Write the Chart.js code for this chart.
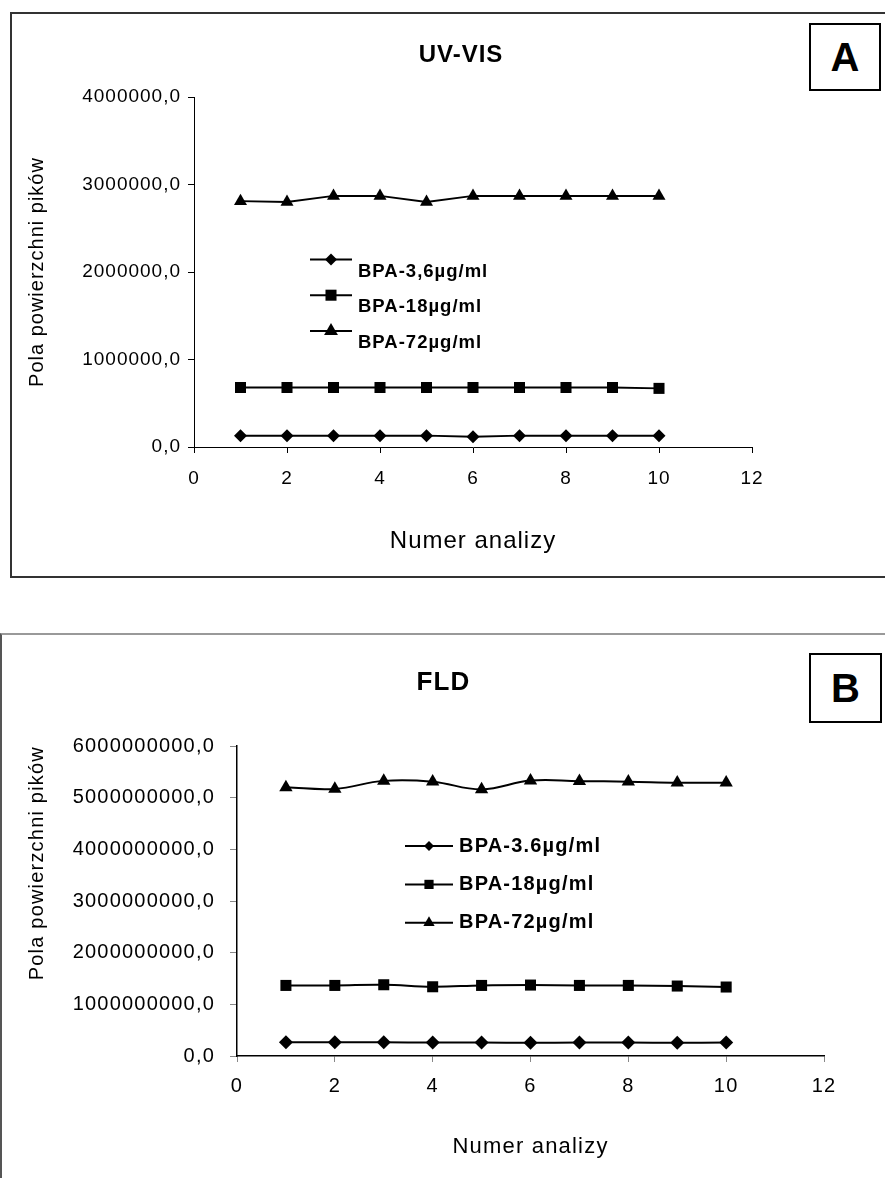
<!DOCTYPE html>
<html>
<head>
<meta charset="utf-8">
<script src="https://cdn.jsdelivr.net/npm/chart.js@4.4.0/dist/chart.umd.min.js"></script>
<style>
  html, body { margin: 0; padding: 0; background: #fff; overflow: hidden; width: 885px; height: 1178px; }
  .frame { position: absolute; box-sizing: border-box; }
  #frameA { left: 10px; top: 12px; width: 920px; height: 566px; border: 2px solid #333; }
  #frameB { left: 0; top: 633px; width: 920px; height: 600px; border-top: 2px solid #999; border-left: 2px solid #555; }
  .wrap { position: absolute; }
  #wrapA { left: 12px; top: 14px; width: 898px; height: 560px; }
  #wrapB { left: 2px; top: 635px; width: 883px; height: 543px; }
  .tag { position: absolute; box-sizing: border-box; border: 2px solid #000; background: #fff;
         font: bold 40px "Liberation Sans", Arial, sans-serif; display: flex; align-items: center; justify-content: center; }
  #tagA { left: 809px; top: 23px; width: 72px; height: 68px; }
  #tagB { left: 809px; top: 653px; width: 73px; height: 70px; }
</style>
</head>
<body>
<div class="frame" id="frameA"></div>
<div class="frame" id="frameB"></div>
<div class="wrap" id="wrapA"><canvas id="chartA"></canvas></div>
<div class="wrap" id="wrapB"><canvas id="chartB"></canvas></div>
<div class="tag" id="tagA">A</div>
<div class="tag" id="tagB">B</div>

<script>
// numer analizy
const analysisNo = [1, 2, 3, 4, 5, 6, 7, 8, 9, 10];

// UV-VIS
const uvNames = ['BPA-3,6µg/ml', 'BPA-18µg/ml', 'BPA-72µg/ml'];
const uvLow  = [130000, 130000, 130000, 130000, 130000, 117000, 130000, 130000, 130000, 130000];
const uvMid  = [680000, 680000, 680000, 680000, 680000, 680000, 680000, 680000, 680000, 670000];
const uvHigh = [2810000, 2800000, 2870000, 2870000, 2800000, 2870000, 2870000, 2870000, 2870000, 2870000];

// FLD
const fldNames = ['BPA-3.6µg/ml', 'BPA-18µg/ml', 'BPA-72µg/ml'];
const fldLow  = [265000000, 265000000, 265000000, 260000000, 260000000, 255000000, 260000000, 260000000, 255000000, 260000000];
const fldMid  = [1366000000, 1366000000, 1379000000, 1340000000, 1366000000, 1373000000, 1366000000, 1366000000, 1354000000, 1335000000];
const fldHigh = [5200000000, 5170000000, 5325000000, 5310000000, 5160000000, 5330000000, 5320000000, 5310000000, 5290000000, 5290000000];

const xTicksMax = 12;
const pointStyles = ['rectRot', 'rect', 'triangle'];

Chart.defaults.font.family = '"Liberation Sans", Arial, sans-serif';
Chart.defaults.color = '#000';

const commaTick = v => v.toFixed(1).replace('.', ',');

// wider text like in the original figure
const spacingPlugin = {
    id: 'spacing',
    beforeLayout(chart, args, opts) { chart.ctx.letterSpacing = opts.value; },
    beforeDraw(chart, args, opts) { chart.ctx.letterSpacing = opts.value; }
};

function drawMarker(ctx, style, x, y, r) {
    ctx.beginPath();
    if (style === 'rectRot') {
        ctx.moveTo(x - r, y); ctx.lineTo(x, y - r); ctx.lineTo(x + r, y); ctx.lineTo(x, y + r);
    } else if (style === 'rect') {
        const s = r * Math.SQRT1_2;
        ctx.rect(x - s, y - s, 2 * s, 2 * s);
    } else {
        const w = r * Math.sqrt(3) / 2;
        ctx.moveTo(x, y - r); ctx.lineTo(x + w, y + r / 2); ctx.lineTo(x - w, y + r / 2);
    }
    ctx.closePath();
    ctx.fill();
}

// legend placed inside the plot area
const insideLegend = {
    id: 'insideLegend',
    afterDatasetsDraw(chart, args, opts) {
        const { ctx, chartArea } = chart;
        ctx.save();
        ctx.fillStyle = '#000';
        ctx.strokeStyle = '#000';
        ctx.font = opts.font;
        ctx.textAlign = 'left';
        ctx.textBaseline = 'middle';
        chart.data.datasets.forEach((ds, i) => {
            const x = chartArea.left + opts.x;
            const y = chartArea.top + opts.y + i * opts.rowGap;
            ctx.lineWidth = 2;
            ctx.beginPath();
            ctx.moveTo(x, y);
            ctx.lineTo(x + opts.lineLength, y);
            ctx.stroke();
            drawMarker(ctx, ds.pointStyle, x + opts.lineLength / 2, y, opts.radii[i]);
            ctx.fillText(ds.label, x + opts.lineLength + opts.textGap, y + opts.textDy);
        });
        ctx.restore();
    }
};

function buildDatasets(names, series, radii, tension) {
    return series.map((vals, i) => ({
        label: names[i],
        data: analysisNo.map((x, j) => ({ x: x, y: vals[j] })),
        borderColor: '#000',
        backgroundColor: '#000',
        borderWidth: 2,
        tension: tension,
        pointStyle: pointStyles[i],
        pointRadius: radii[i],
        pointBorderWidth: 0,
        pointBackgroundColor: '#000'
    }));
}

// empty right-hand scale, only keeps space free so the title stays centred on the whole panel
function spacerScale(width) {
    return {
        type: 'linear', position: 'right', display: true,
        grid: { display: false }, border: { display: false }, ticks: { display: false },
        afterFit: s => { s.width = width; }
    };
}

new Chart(document.getElementById('chartA'), {
    type: 'line',
    data: { datasets: buildDatasets(uvNames, [uvLow, uvMid, uvHigh], [6.5, 7.8, 7.5], 0) },
    plugins: [spacingPlugin, insideLegend],
    options: {
        responsive: true,
        maintainAspectRatio: false,
        animation: false,
        layout: { padding: 0 },
        plugins: {
            legend: { display: false },
            tooltip: { enabled: false },
            title: { display: true, text: 'UV-VIS', color: '#000', font: { size: 24, weight: 'bold' }, padding: { top: 26.6, bottom: 27.6 } },
            spacing: { value: '1px' },
            insideLegend: { x: 116, y: 162.5, rowGap: 35.7, lineLength: 42, textGap: 6, textDy: 12,
                            font: 'bold 18.5px "Liberation Sans", Arial, sans-serif', radii: [6, 7.8, 8] }
        },
        scales: {
            x: {
                type: 'linear', min: 0, max: xTicksMax,
                ticks: { stepSize: 2, font: { size: 19 }, padding: 14, maxRotation: 0 },
                grid: { drawOnChartArea: false, tickLength: 6, color: '#000' },
                border: { color: '#000', width: 1 },
                title: { display: true, text: 'Numer analizy', font: { size: 24 }, padding: { top: 0, bottom: 18.6 } },
                afterFit: s => { s.height = 127; }
            },
            y: {
                min: 0, max: 4000000,
                ticks: { stepSize: 1000000, callback: commaTick, font: { size: 19 }, padding: 7 },
                grid: { drawOnChartArea: false, tickLength: 6, color: '#000' },
                border: { color: '#000', width: 1 },
                title: { display: true, text: 'Pola powierzchni pików', font: { size: 20 }, padding: { top: 13, bottom: 0 } },
                afterFit: s => { s.width = 182; }
            },
            spacer: spacerScale(158)
        }
    }
});

new Chart(document.getElementById('chartB'), {
    type: 'line',
    data: { datasets: buildDatasets(fldNames, [fldLow, fldMid, fldHigh], [7, 7.8, 7.7], 0.4) },
    plugins: [spacingPlugin, insideLegend],
    options: {
        responsive: true,
        maintainAspectRatio: false,
        animation: false,
        layout: { padding: 0 },
        plugins: {
            legend: { display: false },
            tooltip: { enabled: false },
            title: { display: true, text: 'FLD', color: '#000', font: { size: 26, weight: 'bold' }, padding: { top: 32.4, bottom: 47.4 } },
            spacing: { value: '1.2px' },
            insideLegend: { x: 168, y: 100, rowGap: 38.4, lineLength: 48, textGap: 6, textDy: 0,
                            font: 'bold 20px "Liberation Sans", Arial, sans-serif', radii: [5, 6.5, 6.5] }
        },
        scales: {
            x: {
                type: 'linear', min: 0, max: xTicksMax,
                ticks: { stepSize: 2, font: { size: 20 }, padding: 12, maxRotation: 0 },
                grid: { drawOnChartArea: false, tickLength: 6, color: '#888' },
                border: { color: '#000', width: 1.5 },
                title: { display: true, text: 'Numer analizy', font: { size: 22 }, padding: { top: 0, bottom: 18 } },
                afterFit: s => { s.height = 122; }
            },
            y: {
                min: 0, max: 6000000000,
                ticks: { stepSize: 1000000000, callback: commaTick, font: { size: 20 }, padding: 15 },
                grid: { drawOnChartArea: false, tickLength: 7, color: '#888' },
                border: { color: '#000', width: 1.5 },
                title: { display: true, text: 'Pola powierzchni pików', align: 'end', font: { size: 20 }, padding: { top: 23, bottom: 0 } },
                afterFit: s => { s.width = 235; }
            },
            spacer: spacerScale(61)
        }
    }
});
</script>
</body>
</html>
